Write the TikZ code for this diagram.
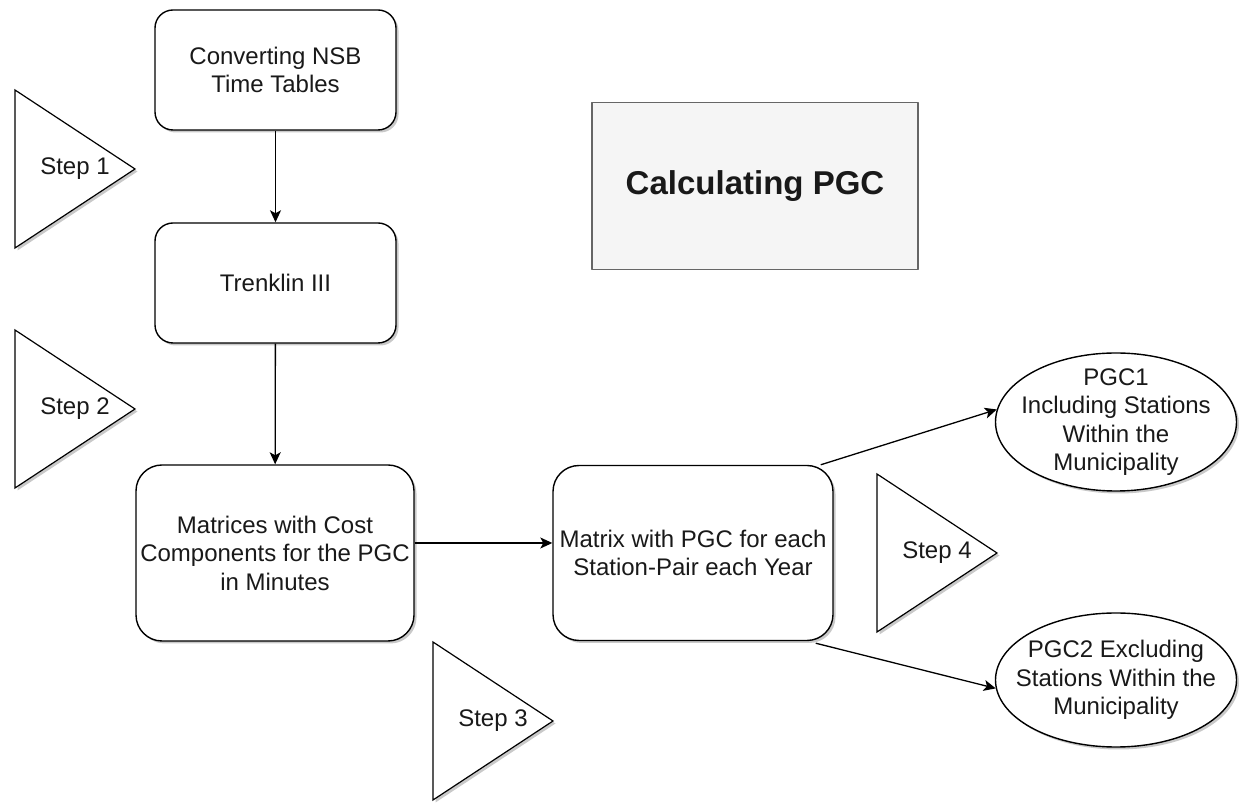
\documentclass[tikz,border=0pt]{standalone}
\usepackage{fontspec}
\setmainfont{Liberation Sans}
\usetikzlibrary{arrows.meta,shapes.geometric,shadows}

\tikzset{
  boxshadow/.style={drop shadow={shadow xshift=2.5bp,shadow yshift=-2.5bp,opacity=0.3,fill=black!70}},
  bodytext/.style={font=\fontsize{24bp}{28.5bp}\selectfont,text=black!90,align=center,inner sep=0pt},
  procbox/.style={bodytext,draw,line width=1.4bp,fill=white,rounded corners=18bp,boxshadow},
  resultell/.style={bodytext,ellipse,draw,line width=1.4bp,fill=white,boxshadow,
    inner xsep=-30bp,inner ysep=-15bp,minimum width=241bp,minimum height=138bp},
  stepshape/.style={draw,line width=1.2bp,fill=white,line join=miter,boxshadow},
  titlebox/.style={draw=black!60,line width=1.2bp,fill=black!4,inner sep=0pt,
    minimum width=326bp,minimum height=167bp,font=\fontsize{33bp}{40bp}\selectfont\bfseries,text=black!90},
}

\begin{document}
\begin{tikzpicture}[>={Stealth[length=12bp,width=11bp,inset=3bp]},line join=bevel,]
\useasboundingbox (0bp,0bp) rectangle (1239bp,804bp);
%%
\node (title_box) at (755bp,618bp) [titlebox] {Calculating PGC};
%% steps
\coordinate (step_1) at (75bp,635bp);
\coordinate (step_2) at (75bp,395bp);
\coordinate (step_3) at (493bp,83bp);
\coordinate (step_4) at (937bp,251bp);
\draw [stepshape] ([shift={(-60bp,79bp)}]step_1) -- ++(0bp,-158bp) -- ++(120bp,79bp) -- cycle;
\draw [stepshape] ([shift={(-60bp,79bp)}]step_2) -- ++(0bp,-158bp) -- ++(120bp,79bp) -- cycle;
\draw [stepshape] ([shift={(-60bp,79bp)}]step_3) -- ++(0bp,-158bp) -- ++(120bp,79bp) -- cycle;
\draw [stepshape] ([shift={(-60bp,79bp)}]step_4) -- ++(0bp,-158bp) -- ++(120bp,79bp) -- cycle;
\node (step_1_txt) at (step_1) [bodytext] {Step 1};
\node (step_2_txt) at (step_2) [bodytext] {Step 2};
\node (step_3_txt) at (step_3) [bodytext] {Step 3};
\node (step_4_txt) at (step_4) [bodytext] {Step 4};
%% process boxes
\node (conv_nsb) at (275.5bp,734bp) [procbox,minimum width=241bp,minimum height=120bp] {Converting NSB\\Time Tables};
\node (trenklin) at (275.5bp,521bp) [procbox,minimum width=241bp,minimum height=120bp] {Trenklin III};
\node (cost_mat) at (275bp,251bp) [procbox,rounded corners=26bp,minimum width=278bp,minimum height=176bp] {Matrices with Cost\\Components for the PGC\\in Minutes};
\node (pgc_mat) at (693bp,251bp) [procbox,rounded corners=26bp,minimum width=280bp,minimum height=175bp] {Matrix with PGC for each\\Station-Pair each Year};
%% results
\node (pgc_one) at (1116bp,382bp) [resultell] {PGC1\\Including Stations\\Within the\\Municipality};
\node (pgc_two) at (1116bp,124bp) [resultell,minimum height=134bp] {PGC2 Excluding\\Stations Within the\\Municipality};
%%
\draw [black,line width=1.3bp,->] (conv_nsb) -- (trenklin);
\draw [black,line width=1.3bp,->] (trenklin) -- (cost_mat);
\draw [black,line width=1.3bp,->] ([yshift=10bp]cost_mat.east) -- ([yshift=10bp]pgc_mat.west);
\draw [black,line width=1.3bp,->] ([xshift=-13bp]pgc_mat.north east) -- (pgc_one.174);
\draw [black,line width=1.3bp,->] ([xshift=-18bp,yshift=-2bp]pgc_mat.south east) -- (pgc_two.184);
%
\end{tikzpicture}
\end{document}
